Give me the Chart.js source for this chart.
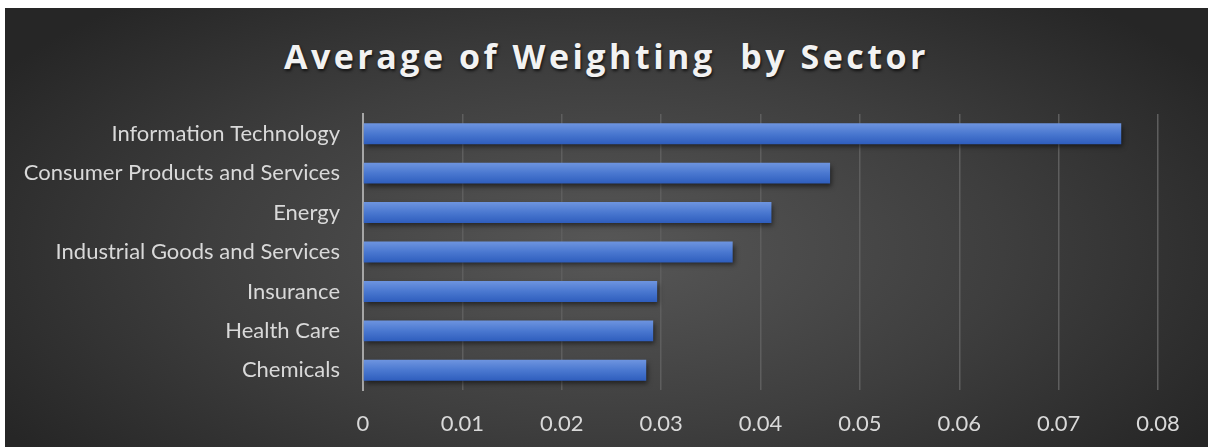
<!DOCTYPE html>
<html>
<head>
<meta charset="utf-8">
<script src="https://cdn.jsdelivr.net/npm/chart.js@4.4.1/dist/chart.umd.min.js"></script>
<style>
  html, body { margin: 0; padding: 0; background: #fff; }
  #box {
    position: absolute; left: 5px; top: 8px; width: 1203px; height: 439px;
    background: radial-gradient(ellipse 60% 75% at 50% 55%, #575757 0%, #3e3e3e 55%, #262626 100%);
  }
  #titulo {
    position: absolute; left: 0; top: 25px; width: 100%; text-align: center;
    font-family: 'Open Sans', sans-serif; font-weight: bold; font-size: 34px;
    letter-spacing: 3.5px; color: #f2f2f2; white-space: pre;
    text-shadow: 1px 2px 3px rgba(0,0,0,0.7);
  }
  canvas { position: absolute; left: 0; top: 0; }
</style>
</head>
<body>
<div id="box">
  <div id="titulo">Average of Weighting  by Sector</div>
  <canvas id="grafico" width="1203" height="439"></canvas>
</div>
<script>
const setores = ['Information Technology', 'Consumer Products and Services', 'Energy',
  'Industrial Goods and Services', 'Insurance', 'Health Care', 'Chemicals'];
const pesos = [0.0763, 0.0470, 0.0411, 0.0372, 0.0296, 0.0292, 0.0285];
const ticksX = [0, 0.01, 0.02, 0.03, 0.04, 0.05, 0.06, 0.07, 0.08];

// sombra por baixo das barras
const sombra = {
  id: 'sombra',
  beforeDatasetDraw(chart) {
    const c = chart.ctx;
    c.save();
    c.shadowColor = 'rgba(0,0,0,0.55)';
    c.shadowBlur = 5;
    c.shadowOffsetX = 2;
    c.shadowOffsetY = 3;
  },
  afterDatasetDraw(chart) {
    chart.ctx.restore();
  }
};

function corBarra(context) {
  const chart = context.chart;
  if (!chart.chartArea || !chart.scales.y) return '#4472c4';
  const y = chart.scales.y.getPixelForValue(context.dataIndex);
  const g = chart.ctx.createLinearGradient(0, y - 11, 0, y + 11);
  g.addColorStop(0, '#7096e0');
  g.addColorStop(0.5, '#4a78d0');
  g.addColorStop(1, '#2d5cbc');
  return g;
}

new Chart(document.getElementById('grafico'), {
  type: 'bar',
  data: {
    labels: setores,
    datasets: [{
      data: pesos,
      backgroundColor: corBarra,
      categoryPercentage: 0.53,
      barPercentage: 1
    }]
  },
  plugins: [sombra],
  options: {
    indexAxis: 'y',
    responsive: false,
    animation: false,
    layout: { padding: { top: 106, right: 50, left: 0, bottom: 0 } },
    plugins: {
      legend: { display: false },
      tooltip: { enabled: false }
    },
    scales: {
      x: {
        min: 0,
        max: 0.08,
        afterBuildTicks: s => { s.ticks = ticksX.map(v => ({ value: v })); },
        afterFit: s => { s.height = 57; },
        grid: {
          color: '#5e5e5e',
          lineWidth: 1.5,
          drawTicks: false
        },
        border: { display: false },
        ticks: {
          padding: 21,
          color: '#d9d9d9',
          font: { family: 'Lato', size: 22 },
          callback: v => String(Number(v.toFixed(2)))
        }
      },
      y: {
        afterFit: s => { s.width = 358; },
        grid: { display: false },
        border: { display: true, color: '#a6a6a6', width: 2 },
        ticks: {
          padding: 15,
          color: '#d9d9d9',
          font: { family: 'Lato', size: 22 }
        }
      }
    }
  }
});
</script>
</body>
</html>
